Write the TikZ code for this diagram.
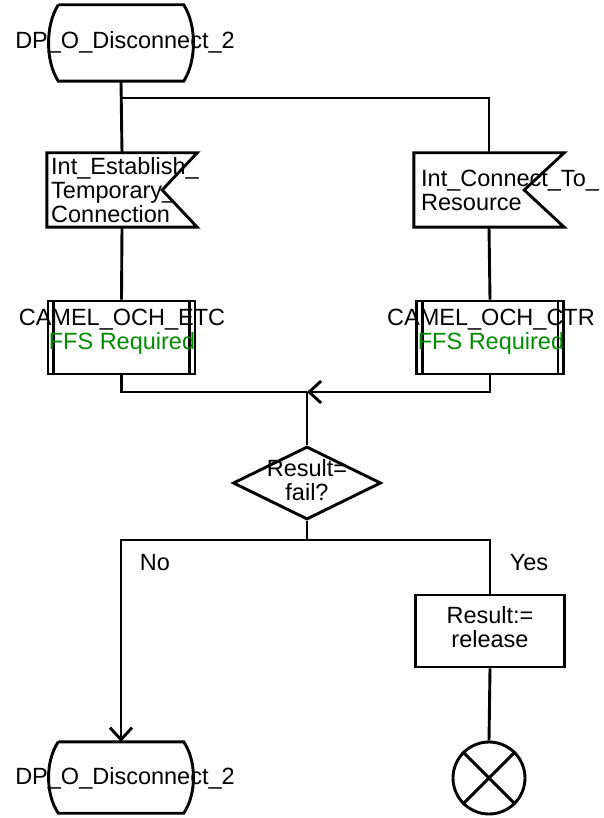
\documentclass[tikz,border=0pt]{standalone}
\usepackage{fontspec}
\setmainfont{Liberation Sans}
\usetikzlibrary{arrows.meta,shapes.geometric}
\definecolor{ffsgreen}{RGB}{0,140,0}
\tikzset{
    flow/.style={line width=2.9pt},
    txt/.style={font=\fontsize{23.5}{24}\selectfont, inner sep=0pt, align=center},
    sig/.style={minimum width=150pt, minimum height=74pt, inner sep=0pt},
    proc/.style={draw, flow, minimum width=147pt, minimum height=73pt, inner sep=0pt},
    stbox/.style={minimum width=125pt, inner sep=0pt},
    barb/.style={-{Straight Barb[length=12pt,width=22pt,line width=2.9pt]}},
}
\begin{document}
\begin{tikzpicture}[x=1pt,y=-1pt]
    \useasboundingbox (0,0) rectangle (603,818);
    % states
    \node[stbox, minimum height=76pt] (st) at (121,43) {};
    \draw[flow] (st.north west) -- (st.north east) .. controls +(13,20) and +(13,-20) .. (st.south east) -- (st.south west) .. controls +(-13,-20) and +(-13,20) .. (st.north west);
    \node[txt] (sttxt) at (125,42) {DP\_O\_Disconnect\_2};
    \node[stbox, minimum height=71pt] (en) at (121,777.5) {};
    \draw[flow] (en.north west) -- (en.north east) .. controls +(13,19) and +(13,-19) .. (en.south east) -- (en.south west) .. controls +(-13,-19) and +(-13,19) .. (en.north west);
    \node[txt] (entxt) at (125,778) {DP\_O\_Disconnect\_2};

    % signals
    \node[sig] (sig1) at (122,190) {};
    \draw[flow] (sig1.north east) -- (sig1.north west) -- (sig1.south west) -- (sig1.south east) -- ([xshift=-35pt]sig1.east) -- cycle;
    \node[txt, align=left, anchor=west] (sig1txt) at (51,190) {Int\_Establish\_\\Temporary\_\\Connection};
    \node[sig] (sig2) at (489,190) {};
    \draw[flow] (sig2.north east) -- (sig2.north west) -- (sig2.south west) -- (sig2.south east) -- ([xshift=-40pt]sig2.east) -- cycle;
    \node[txt, align=left, anchor=west] (sig2txt) at (421,190) {Int\_Connect\_To\_\\Resource};

    % procedures
    \node[proc] (eproc) at (121.5,337.5) {};
    \draw[flow] ([xshift=7pt]eproc.north west) -- ([xshift=7pt]eproc.south west);
    \draw[flow] ([xshift=-7pt]eproc.north east) -- ([xshift=-7pt]eproc.south east);
    \node[txt] (eproctxt) at (122,332) {CAMEL\_OCH\_ETC\\\textcolor{ffsgreen}{FFS Required}};
    \node[proc] (cproc) at (490,337.5) {};
    \draw[flow] ([xshift=7pt]cproc.north west) -- ([xshift=7pt]cproc.south west);
    \draw[flow] ([xshift=-7pt]cproc.north east) -- ([xshift=-7pt]cproc.south east);
    \node[txt] (cproctxt) at (491,332) {CAMEL\_OCH\_CTR\\\textcolor{ffsgreen}{FFS Required}};

    % decision
    \node[diamond, draw, flow, minimum width=148pt, minimum height=73pt, inner sep=0pt] (dec) at (307,483) {};
    \node[txt] (dectxt) at (307,480) {Result=\\fail?};

    % task and stop
    \node[proc, minimum width=149pt, minimum height=72pt] (res) at (490,631) {};
    \node[txt] (restxt) at (490,627) {Result:=\\release};
    \node[circle, draw, flow, minimum size=72pt, inner sep=0pt] (stop) at (489,778) {};
    \draw[flow] (stop.north west) -- (stop.south east);
    \draw[flow] (stop.north east) -- (stop.south west);

    % connectors
    \coordinate (fork) at (121,98);
    \coordinate (merge) at (307,392);
    \coordinate (split) at (307,540);
    \draw[flow] (st.south) -- (sig1.north);
    \draw[flow] (fork) -| (sig2.north);
    \draw[flow] (sig1.south) -- (eproc.north);
    \draw[flow] (sig2.south) -- (cproc.north);
    \draw[flow] (eproc.south) |- (merge);
    \draw[flow, barb] (cproc.south) |- (merge);
    \draw[flow] (merge) -- (dec.north);
    \draw[flow] (dec.south) -- (split);
    \draw[flow, barb] (split) -| (en.north);
    \draw[flow] (split) -| (res.north);
    \draw[flow] (res.south) -- (stop.north);

    \node[txt] (no) at (155,563) {No};
    \node[txt] (yes) at (529,563) {Yes};
\end{tikzpicture}
\end{document}
